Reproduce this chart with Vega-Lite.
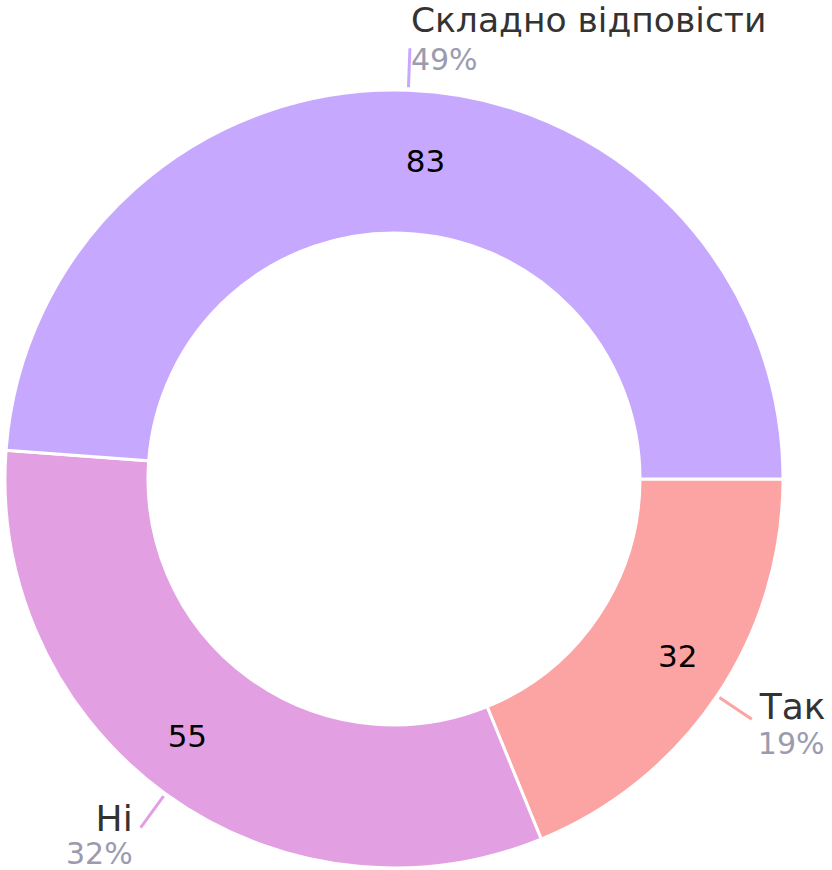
{
  "$schema": "https://vega.github.io/schema/vega-lite/v6.json",
  "autosize": {"type": "none"},
  "padding": {"left": 0, "top": 88, "right": 44, "bottom": 0},
  "width": 788,
  "height": 782,
  "background": "#ffffff",
  "config": {"view": {"stroke": null}, "text": {"font": "DejaVu Sans"}},
  "data": {
    "values": [
      {"category": "Так", "value": 32, "pct": 0.19, "idx": 1},
      {"category": "Ні", "value": 55, "pct": 0.32, "idx": 2},
      {"category": "Складно відповісти", "value": 83, "pct": 0.49, "idx": 3}
    ]
  },
  "encoding": {
    "theta": {"field": "value", "type": "quantitative", "stack": true, "scale": {"range": [1.5707963, 7.8539816], "nice": false, "zero": true}},
    "order": {"field": "idx", "type": "quantitative"},
    "detail": {"field": "category", "type": "nominal"},
    "color": {"field": "category", "type": "nominal", "legend": null,
      "scale": {"domain": ["Так", "Ні", "Складно відповісти"], "range": ["#FCA3A3", "#E29FE2", "#C7A8FF"]}}
  },
  "layer": [
    {"mark": {"type": "arc", "innerRadius": 246, "outerRadius": 389, "stroke": "#ffffff", "strokeWidth": 3}},
    {"mark": {"type": "arc", "innerRadius": 392, "outerRadius": 431, "padAngle": 3, "strokeWidth": 3, "fillOpacity": 0},
      "encoding": {"stroke": {"field": "category", "type": "nominal", "legend": null,
        "scale": {"domain": ["Так", "Ні", "Складно відповісти"], "range": ["#FCA3A3", "#E29FE2", "#C7A8FF"]}}}},
    {"mark": {"type": "text", "radius": 318, "align": "left", "baseline": "middle", "dy": 2, "fontSize": 31},
      "encoding": {"color": {"value": "#000000"},
        "text": {"condition": {"test": "datum.category !== 'Ні'", "field": "value", "type": "quantitative"}, "value": ""}}},
    {"mark": {"type": "text", "radius": 318, "align": "right", "baseline": "middle", "dy": 2, "fontSize": 31},
      "encoding": {"color": {"value": "#000000"},
        "text": {"condition": {"test": "datum.category === 'Ні'", "field": "value", "type": "quantitative"}, "value": ""}}},
    {"mark": {"type": "text", "radius": 431, "align": "left", "baseline": "alphabetic", "dx": 8, "dy": 0, "fontSize": 36},
      "encoding": {"color": {"value": "#333333"},
        "text": {"condition": {"test": "datum.category === 'Так'", "field": "category", "type": "nominal"}, "value": ""}}},
    {"mark": {"type": "text", "radius": 431, "align": "right", "baseline": "alphabetic", "dx": -8, "dy": 3, "fontSize": 36},
      "encoding": {"color": {"value": "#333333"},
        "text": {"condition": {"test": "datum.category === 'Ні'", "field": "category", "type": "nominal"}, "value": ""}}},
    {"mark": {"type": "text", "radius": 431, "align": "left", "baseline": "alphabetic", "dx": 1, "dy": -16, "fontSize": 34.5},
      "encoding": {"color": {"value": "#333333"},
        "text": {"condition": {"test": "datum.category === 'Складно відповісти'", "field": "category", "type": "nominal"}, "value": ""}}},
    {"mark": {"type": "text", "radius": 431, "align": "left", "baseline": "alphabetic", "dx": 6, "dy": 35, "fontSize": 30},
      "encoding": {"color": {"value": "#9B9BB0"},
        "text": {"condition": {"test": "datum.category === 'Так'", "field": "pct", "type": "quantitative", "format": ".0%"}, "value": ""}}},
    {"mark": {"type": "text", "radius": 431, "align": "right", "baseline": "alphabetic", "dx": -8, "dy": 36, "fontSize": 30},
      "encoding": {"color": {"value": "#9B9BB0"},
        "text": {"condition": {"test": "datum.category === 'Ні'", "field": "pct", "type": "quantitative", "format": ".0%"}, "value": ""}}},
    {"mark": {"type": "text", "radius": 431, "align": "left", "baseline": "alphabetic", "dx": 1, "dy": 22, "fontSize": 30},
      "encoding": {"color": {"value": "#9B9BB0"},
        "text": {"condition": {"test": "datum.category === 'Складно відповісти'", "field": "pct", "type": "quantitative", "format": ".0%"}, "value": ""}}}
  ]
}
